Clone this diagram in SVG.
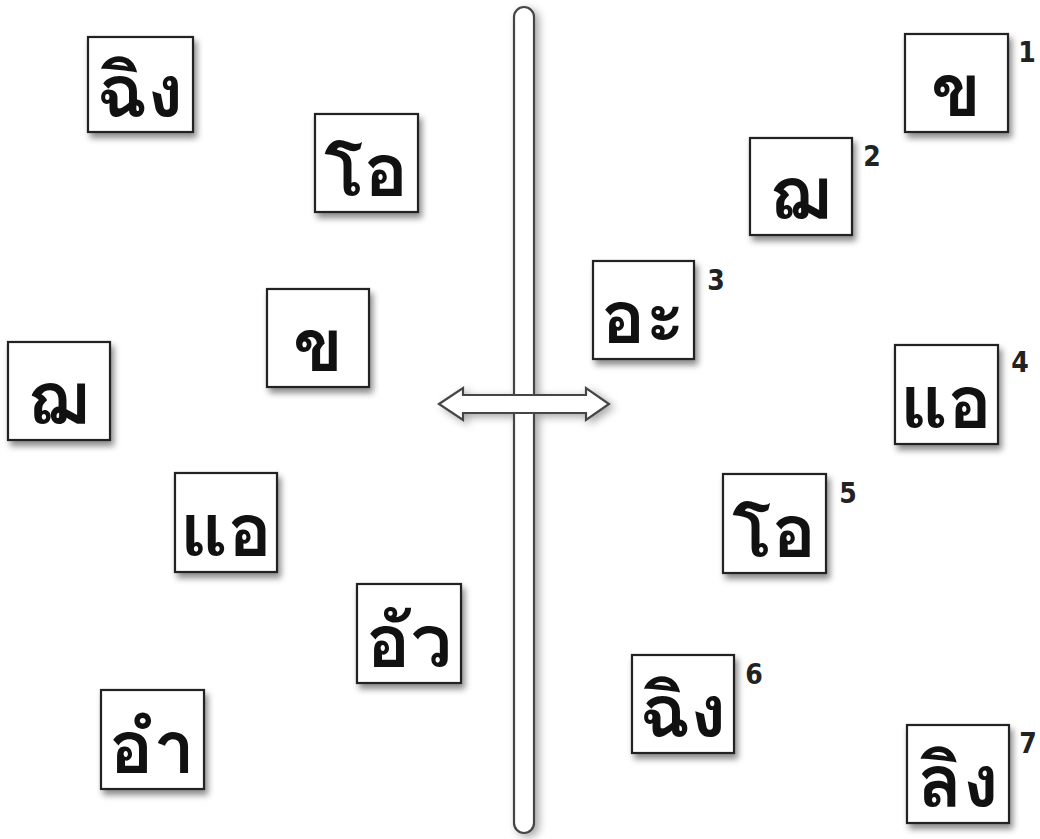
<svg xmlns="http://www.w3.org/2000/svg" width="1040" height="839" viewBox="0 0 1040 839">
<defs>
<filter id="sh" x="-20%" y="-20%" width="150%" height="150%">
<feDropShadow dx="3" dy="5" stdDeviation="3" flood-color="#000" flood-opacity="0.45"/>
</filter>
<filter id="sh2" x="-50%" y="-5%" width="200%" height="110%">
<feDropShadow dx="4" dy="3" stdDeviation="4" flood-color="#000" flood-opacity="0.35"/>
</filter>
</defs>
<style>
.box{fill:#fff;stroke:#222;stroke-width:2.2;filter:url(#sh)}
.th{font-family:"Noto Looped Thai","Loma","Garuda","Noto Sans Thai",sans-serif;font-size:74px;font-weight:bold;fill:#111;text-anchor:middle}
.num{font-family:"DejaVu Sans Condensed","Liberation Sans Narrow","Liberation Sans",sans-serif;font-stretch:condensed;font-weight:bold;font-size:28px;fill:#222;text-anchor:middle}
.bar{fill:#fff;stroke:#444;stroke-width:2.2}
</style>
<rect width="1040" height="839" fill="#fff"/>
<g id="connectors">
<g filter="url(#sh2)">
<rect class="bar" x="514" y="7" width="20" height="826" rx="10"/>
<path class="bar" d="M439,404 L463,388 L463,395 L586,395 L586,388 L609,404 L586,420 L586,413 L463,413 L463,420 Z"/>
</g>
<rect x="515.2" y="396.2" width="17.6" height="15.6" fill="#fff"/>
</g>
<g id="L1"><rect class="box" x="88" y="37" width="105" height="95"/><text class="th" x="140" y="117">ฉิง</text></g>
<g id="L2"><rect class="box" x="315" y="114" width="103" height="98"/><text class="th" x="366" y="196">โอ</text></g>
<g id="L3"><rect class="box" x="267" y="289" width="102" height="98"/><text class="th" x="318" y="371">ข</text></g>
<g id="L4"><rect class="box" x="8" y="342" width="102" height="98"/><text class="th" x="59" y="424">ฌ</text></g>
<g id="L5"><rect class="box" x="175" y="473" width="102" height="99"/><text class="th" x="226" y="556">แอ</text></g>
<g id="L6"><rect class="box" x="357" y="584" width="104" height="99"/><text class="th" x="409" y="667">อัว</text></g>
<g id="L7"><rect class="box" x="101" y="690" width="103" height="99"/><text class="th" x="152" y="773">อำ</text></g>
<g id="R1"><rect class="box" x="905" y="34" width="103" height="98"/><text class="th" x="956" y="116">ข</text><text class="num" x="1027" y="62">1</text></g>
<g id="R2"><rect class="box" x="750" y="138" width="102" height="97"/><text class="th" x="801" y="219">ฌ</text><text class="num" x="872" y="166">2</text></g>
<g id="R3"><rect class="box" x="593" y="261" width="101" height="98"/><text class="th" x="643" y="343">อะ</text><text class="num" x="716" y="290">3</text></g>
<g id="R4"><rect class="box" x="895" y="345" width="103" height="99"/><text class="th" x="946" y="428">แอ</text><text class="num" x="1020" y="372">4</text></g>
<g id="R5"><rect class="box" x="723" y="474" width="103" height="99"/><text class="th" x="774" y="557">โอ</text><text class="num" x="848" y="503">5</text></g>
<g id="R6"><rect class="box" x="632" y="655" width="102" height="98"/><text class="th" x="683" y="737">ฉิง</text><text class="num" x="754" y="684">6</text></g>
<g id="R7"><rect class="box" x="907" y="725" width="102" height="98"/><text class="th" x="958" y="807">ลิง</text><text class="num" x="1028" y="753">7</text></g>
</svg>
